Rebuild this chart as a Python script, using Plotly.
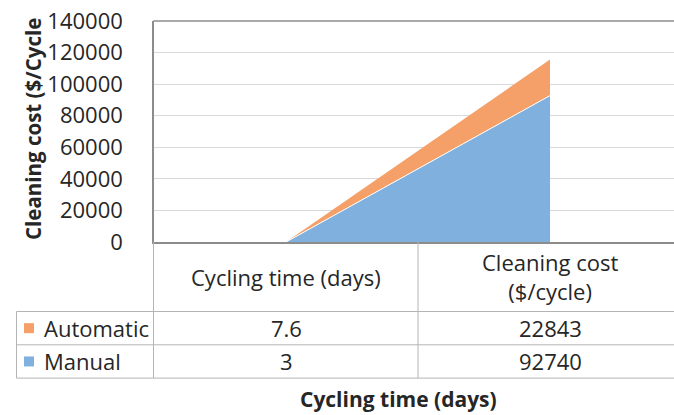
import plotly.graph_objects as go

categories = ["Cycling time (days)", "Cleaning cost<br>($/cycle)"]
series_names = ["Automatic", "Manual"]
automatic = [7.6, 22843]
manual = [3, 92740]
automatic_labels = ["7.6", "22843"]
manual_labels = ["3", "92740"]
y_ticks = [0, 20000, 40000, 60000, 80000, 100000, 120000, 140000]

W, H = 674, 415
L, R, T, B = 154, 0, 21, 173
plot_w = W - L - R
plot_h = H - T - B
cat_px = 264.0
xmin = -0.5
xmax = xmin + plot_w / cat_px

def px(x):
    return (x - L) / plot_w

def py(y):
    return (H - B - y) / plot_h

def dx(v):
    return (v - xmin) / (xmax - xmin)

blue = "rgb(128,176,222)"
orange = "rgb(244,160,104)"
txt = "#262626"
grid = "#d9d9d9"
tline = "#b4b4b4"
axc = "#8c8c8c"
font = "Open Sans"
fs = 22

xs = list(range(len(categories)))
fig = go.Figure()
fig.add_trace(go.Scatter(x=xs, y=manual, stackgroup="s", mode="lines",
                         line=dict(color="white", width=1), fillcolor=blue,
                         name="Manual", showlegend=False, hoverinfo="skip"))
fig.add_trace(go.Scatter(x=xs, y=automatic, stackgroup="s", mode="lines",
                         line=dict(color=orange, width=0), fillcolor=orange,
                         name="Automatic", showlegend=False, hoverinfo="skip"))

shapes = []
def hline(y, x0, x1, color=tline, w=1):
    shapes.append(dict(type="line", xref="paper", yref="paper", x0=px(x0), x1=px(x1),
                       y0=py(y), y1=py(y), line=dict(color=color, width=w)))
def vline(x, y0, y1, color=tline, w=1):
    shapes.append(dict(type="line", xref="paper", yref="paper", x0=px(x), x1=px(x),
                       y0=py(y0), y1=py(y1), line=dict(color=color, width=w)))

# plot frame top edge
hline(T, L - 0.75, W + 5, color=axc, w=1.5)

row_top = 311.5
row_h = 33.3
rows_y = [row_top + row_h * i for i in range(len(series_names) + 1)]
for y in rows_y:
    hline(y, 16.5, W + 5)
vline(16.5, rows_y[0], rows_y[-1])
vline(L - 0.5, H - B, rows_y[-1])
for k in range(len(categories) - 1):
    xb = L + dx(k + 0.5) * plot_w
    vline(xb, H - B, rows_y[-1])

ann = []
for i, c in enumerate(categories):
    ann.append(dict(x=dx(i), y=py((H - B + row_top) / 2), xref="paper", yref="paper",
                    text=c, showarrow=False, font=dict(family=font, size=fs, color=txt),
                    xanchor="center", yanchor="middle"))
row_vals = [automatic_labels, manual_labels]
row_cols = [orange, blue]
for r, name in enumerate(series_names):
    yc = (rows_y[r] + rows_y[r + 1]) / 2
    shapes.append(dict(type="rect", xref="paper", yref="paper", x0=px(24), x1=px(34),
                       y0=py(yc - 5), y1=py(yc + 5), fillcolor=row_cols[r], line=dict(width=0)))
    ann.append(dict(x=px(42), y=py(yc), xref="paper", yref="paper", text=name,
                    showarrow=False, font=dict(family=font, size=fs, color=txt),
                    xanchor="left", yanchor="middle"))
    for i, v in enumerate(row_vals[r]):
        ann.append(dict(x=dx(i), y=py(yc), xref="paper", yref="paper", text=v,
                        showarrow=False, font=dict(family=font, size=fs, color=txt),
                        xanchor="center", yanchor="middle"))

ann.append(dict(x=px(398), y=py(399), xref="paper", yref="paper",
                text="<b>Cycling time (days)</b>", showarrow=False,
                font=dict(family=font, size=21, color=txt), xanchor="center", yanchor="middle"))
ann.append(dict(x=px(33), y=py(129), xref="paper", yref="paper",
                text="<b>Cleaning cost ($/Cycle</b>", showarrow=False, textangle=-90,
                font=dict(family=font, size=20.5, color=txt), xanchor="center", yanchor="middle"))

fig.update_layout(
    template="none",
    width=W, height=H, margin=dict(l=L, r=R, t=T, b=B, autoexpand=False),
    paper_bgcolor="white", plot_bgcolor="white",
    shapes=shapes, annotations=ann, showlegend=False,
    xaxis=dict(range=[xmin, xmax], showticklabels=False, showgrid=False, zeroline=False,
               showline=True, linecolor=axc, linewidth=1.5, mirror=False, ticks="",
               automargin=False),
    yaxis=dict(range=[0, 140000], tickvals=y_ticks, showgrid=True, gridcolor=grid, gridwidth=1,
               zeroline=False, showline=True, linecolor=axc, linewidth=1.5, mirror=False,
               tickfont=dict(family=font, size=fs, color=txt), ticks="",
               ticklabelstandoff=25, tickformat="d", automargin=False),
)
fig.write_html("out.html", config={"displayModeBar": False},
               post_script="document.body.style.margin='0px';document.body.style.overflow='hidden';")
